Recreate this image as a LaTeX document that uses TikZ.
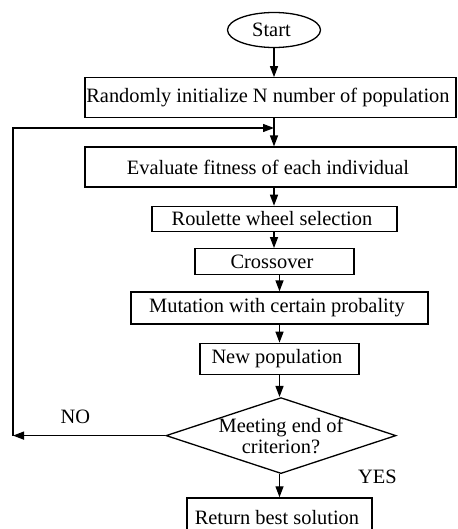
\documentclass[tikz,border=0pt]{standalone}
\usepackage{fontspec}
\setmainfont{Liberation Serif}
\usepackage{tikz}
\usetikzlibrary{positioning, shapes.geometric, arrows.meta}

\begin{document}
\begin{tikzpicture}[x = 1pt, y = -1pt, line width = 1.3pt,
    every node/.style = { align = center, inner sep = 0pt, font = \fontsize{20.4}{21}\selectfont },
    box/.style = { draw, shape = rectangle },
    decision/.style = { draw, shape = diamond },
    arrow/.style = { -{Triangle[length = 11pt, width = 8pt]} }]
  \useasboundingbox (0,0) rectangle (457,529);

  \node [draw, shape = ellipse, minimum width = 93pt, minimum height = 35pt] (start) at (274,30) { Start };
  \node [box, below = 29pt of start, xshift = -3.5pt, minimum width = 371pt, minimum height = 40pt] (init)
    { Randomly initialize N number of population };
  \node [box, below = 28pt of init, minimum width = 371pt, minimum height = 40pt] (eval)
    { Evaluate fitness of each individual };
  \node [box, below = 18pt of eval, xshift = 4pt, minimum width = 245pt, minimum height = 25pt] (select)
    { Roulette wheel selection };
  \node [box, below = 16pt of select, minimum width = 159pt, minimum height = 26pt] (cross)
    { Crossover };
  \node [box, below = 16pt of cross, xshift = 5pt, minimum width = 297pt, minimum height = 32pt] (mutate)
    { Mutation with certain probality };
  \node [box, below = 18pt of mutate, minimum width = 159pt, minimum height = 31pt] (newpop)
    { New population };
  \node [decision, below = 22pt of newpop, xshift = 1.5pt, minimum width = 230pt, minimum height = 76pt] (check) {};
  \node (checktext) at (check) { Meeting end of \\ criterion? };
  \node [box, below = 23pt of check, xshift = -1.5pt, minimum width = 185pt, minimum height = 40pt] (result)
    { Return best solution };

  \node (no) at (78,417) { NO };
  \node (yes) at (380,477) { YES };

  \coordinate (merge) at (start |- 0,128);
  \coordinate (back) at (check.west -| 13,0);

  \draw [arrow] (start) -- (start |- init.north);
  \draw [arrow] (init.south -| merge) -- (eval.north -| merge);
  \draw [arrow] (eval.south -| merge) -- (select.north -| merge);
  \draw [arrow] (select.south -| merge) -- (cross.north -| merge);
  \draw [arrow] (cross.south -| mutate) -- (mutate.north);
  \draw [arrow] (mutate) -- (newpop);
  \draw [arrow] (newpop.south -| mutate) -- (check.north -| mutate);
  \draw [arrow] (check.south -| mutate) -- (result.north -| mutate);
  \draw [arrow] (check.west) -- (back);
  \draw [arrow] (back) |- (merge);
\end{tikzpicture}
\end{document}
